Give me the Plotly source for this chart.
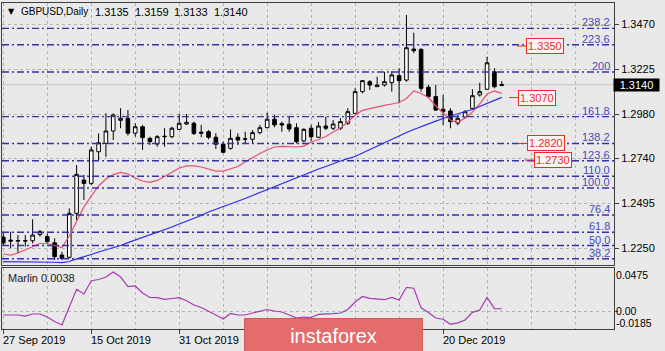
import plotly.graph_objects as go

# ---------------- data ----------------
opens = [1.2311, 1.2294, 1.2289, 1.2292, 1.2291, 1.2325, 1.2314, 1.2280, 1.2213, 1.2201,
         1.2440, 1.2621, 1.2603, 1.2775, 1.2821, 1.2888, 1.2946, 1.2957, 1.2876, 1.2911,
         1.2848, 1.2817, 1.2857, 1.2857, 1.2897, 1.2926, 1.2930, 1.2875, 1.2884, 1.2854,
         1.2817, 1.2794, 1.2854, 1.2843, 1.2843, 1.2879, 1.2906, 1.2952, 1.2928, 1.2925,
         1.2906, 1.2834, 1.2903, 1.2854, 1.2915, 1.2903, 1.2903, 1.2930, 1.2984, 1.3102,
         1.3156, 1.3129, 1.3138, 1.3151, 1.3189, 1.3165, 1.3334, 1.3332, 1.3126, 1.3075,
         1.3006, 1.2997, 1.2931, 1.2964, 1.3011, 1.3084, 1.3115, 1.3210, 1.3135]
highs = [1.2340, 1.2340, 1.2322, 1.2322, 1.2408, 1.2350, 1.2330, 1.2304, 1.2231, 1.2467,
         1.2703, 1.2649, 1.2803, 1.2875, 1.2984, 1.2984, 1.3012, 1.3002, 1.2930, 1.2921,
         1.2857, 1.2866, 1.2903, 1.2911, 1.2981, 1.2981, 1.2939, 1.2921, 1.2893, 1.2876,
         1.2830, 1.2897, 1.2876, 1.2884, 1.2893, 1.2921, 1.2988, 1.2975, 1.2939, 1.2970,
         1.2930, 1.2903, 1.2921, 1.2937, 1.2966, 1.2948, 1.2957, 1.3012, 1.3120, 1.3165,
         1.3165, 1.3183, 1.3210, 1.3214, 1.3229, 1.3519, 1.3423, 1.3338, 1.3138, 1.3138,
         1.3084, 1.3012, 1.2975, 1.3002, 1.3115, 1.3151, 1.3292, 1.3229, 1.3159]
lows = [1.2262, 1.2250, 1.2224, 1.2259, 1.2277, 1.2312, 1.2280, 1.2186, 1.2186, 1.2195,
        1.2404, 1.2513, 1.2594, 1.2730, 1.2748, 1.2839, 1.2903, 1.2863, 1.2857, 1.2785,
        1.2812, 1.2803, 1.2803, 1.2849, 1.2893, 1.2921, 1.2866, 1.2854, 1.2843, 1.2790,
        1.2767, 1.2786, 1.2812, 1.2821, 1.2821, 1.2871, 1.2903, 1.2908, 1.2884, 1.2884,
        1.2821, 1.2826, 1.2834, 1.2850, 1.2893, 1.2893, 1.2893, 1.2921, 1.2981, 1.3093,
        1.3111, 1.3129, 1.3129, 1.3102, 1.3039, 1.3156, 1.3311, 1.3102, 1.3066, 1.2998,
        1.2921, 1.2903, 1.2919, 1.2957, 1.3006, 1.3075, 1.3111, 1.3120, 1.3133]
closes = [1.2279, 1.2289, 1.2292, 1.2290, 1.2322, 1.2340, 1.2286, 1.2204, 1.2195, 1.2440,
          1.2652, 1.2603, 1.2785, 1.2824, 1.2888, 1.2975, 1.2957, 1.2876, 1.2911, 1.2852,
          1.2830, 1.2857, 1.2859, 1.2903, 1.2930, 1.2935, 1.2875, 1.2881, 1.2854, 1.2816,
          1.2772, 1.2848, 1.2839, 1.2845, 1.2879, 1.2906, 1.2952, 1.2921, 1.2921, 1.2899,
          1.2830, 1.2897, 1.2857, 1.2915, 1.2903, 1.2926, 1.2939, 1.2993, 1.3102, 1.3162,
          1.3138, 1.3138, 1.3156, 1.3193, 1.3162, 1.3341, 1.3325, 1.3120, 1.3075, 1.3002,
          1.2993, 1.2939, 1.2957, 1.2993, 1.3080, 1.3102, 1.3259, 1.3129, 1.3140]
ma_fast = [1.2219, 1.2213, 1.2224, 1.2241, 1.2257, 1.2276, 1.2276, 1.2265, 1.2254, 1.2317,
           1.2393, 1.2475, 1.2534, 1.2589, 1.2627, 1.2651, 1.2663, 1.2654, 1.2632, 1.2616,
           1.2609, 1.2619, 1.2640, 1.2665, 1.2687, 1.2698, 1.2698, 1.2692, 1.2681, 1.2670,
           1.2670, 1.2681, 1.2695, 1.2719, 1.2744, 1.2766, 1.2785, 1.2801, 1.2804, 1.2804,
           1.2801, 1.2806, 1.2828, 1.2842, 1.2858, 1.2883, 1.2904, 1.2937, 1.2975, 1.3000,
           1.3010, 1.3021, 1.3027, 1.3035, 1.3043, 1.3065, 1.3106, 1.3092, 1.3070, 1.3024,
           1.2984, 1.2948, 1.2934, 1.2959, 1.2991, 1.3035, 1.3089, 1.3106, 1.3093]
ma_slow = [1.2177, 1.2177, 1.2177, 1.2177, 1.2177, 1.2177, 1.2177, 1.2174, 1.2172, 1.2178,
           1.2192, 1.2203, 1.2216, 1.2230, 1.2241, 1.2254, 1.2265, 1.2281, 1.2295, 1.2309,
           1.2322, 1.2336, 1.2349, 1.2366, 1.2382, 1.2396, 1.2412, 1.2428, 1.2447, 1.2461,
           1.2476, 1.2491, 1.2504, 1.2521, 1.2537, 1.2553, 1.2570, 1.2586, 1.2602, 1.2620,
           1.2635, 1.2651, 1.2668, 1.2681, 1.2695, 1.2711, 1.2725, 1.2738, 1.2749, 1.2768,
           1.2787, 1.2806, 1.2823, 1.2842, 1.2861, 1.2880, 1.2896, 1.2912, 1.2929, 1.2942,
           1.2956, 1.2970, 1.2983, 1.2994, 1.3005, 1.3021, 1.3038, 1.3054, 1.3071]
marlin = [-0.0043, -0.0043, -0.0043, -0.0056, -0.0030, -0.0030, -0.0069, -0.0127, -0.0172, 0.0061,
          0.0290, 0.0229, 0.0401, 0.0417, 0.0449, 0.0514, 0.0449, 0.0326, 0.0333, 0.0242,
          0.0184, 0.0181, 0.0160, 0.0171, 0.0181, 0.0142, 0.0087, 0.0054, 0.0009, -0.0043,
          -0.0094, -0.0023, -0.0043, -0.0043, -0.0017, 0.0009, 0.0028, 0.0009, -0.0004, -0.0043,
          -0.0082, -0.0069, -0.0075, -0.0034, -0.0034, -0.0026, -0.0017, 0.0028, 0.0126, 0.0197,
          0.0173, 0.0160, 0.0155, 0.0186, 0.0151, 0.0316, 0.0304, 0.0050, -0.0010, -0.0082,
          -0.0098, -0.0163, -0.0144, -0.0107, -0.0008, 0.0022, 0.0186, 0.0040, 0.0038]

price_ticks = [1.3470, 1.3225, 1.2980, 1.2740, 1.2495, 1.2250]
fib_labels = ["238.2", "223.6", "200", "161.8", "138.2", "123.6", "110.0", "100.0",
              "76.4", "61.8", "50.0", "38.2"]
fib_prices = [1.3446, 1.3357, 1.3209, 1.2966, 1.2820, 1.2726, 1.2642, 1.2578,
              1.2431, 1.2337, 1.2265, 1.2193]
target_prices = [1.3350, 1.3070, 1.2820, 1.2730]
marlin_ticks = [0.0475, 0.00, -0.0185]
marlin_tick_text = ["0.0475", "0.00", "-0.0185"]
date_tick_idx = [0, 12, 24, 36, 48, 60]
# labels at bars 36 and 48 sit under the watermark in the reference (not visible)
date_tick_text = ["27 Sep 2019", "15 Oct 2019", "31 Oct 2019", "", "", "20 Dec 2019"]
symbol = "GBPUSD,Daily"

# ---------------- layout geometry ----------------
W, H = 665, 351
L, R, T, B = 2, 51, 3, 22
PW, PH = W - L - R, H - T - B
BG = "#e9e9e9"
FONT = "Liberation Sans, Arial, sans-serif"


def fx(px):
    return (px - L) / PW


def fy(py):
    return (T + PH - py) / PH


n = len(closes)
xs = list(range(n))
x_range = [-0.177, -0.177 + PW / 7.33]

fig = go.Figure()
fig.add_trace(go.Candlestick(
    x=xs, open=opens, high=highs, low=lows, close=closes,
    increasing=dict(line=dict(color="#000000", width=1), fillcolor="#ffffff"),
    decreasing=dict(line=dict(color="#000000", width=1), fillcolor="#000000"),
    whiskerwidth=0, showlegend=False, hoverinfo="skip", xaxis="x", yaxis="y"))
fig.add_trace(go.Scatter(x=xs, y=ma_fast, mode="lines",
                         line=dict(color="#e8506e", width=1.2), showlegend=False,
                         xaxis="x", yaxis="y"))
fig.add_trace(go.Scatter(x=xs, y=ma_slow, mode="lines",
                         line=dict(color="#2a2af0", width=1.2), showlegend=False,
                         xaxis="x", yaxis="y"))
fig.add_trace(go.Scatter(x=xs, y=marlin, mode="lines",
                         line=dict(color="#a838b0", width=1.2), showlegend=False,
                         xaxis="x2", yaxis="y2"))

shapes = []
annotations = []

# fibonacci levels
for lab, p in zip(fib_labels, fib_prices):
    shapes.append(dict(type="line", xref="paper", yref="y", x0=0, x1=1, y0=p, y1=p,
                       line=dict(color="#3434a6", width=1.4, dash="7px,3px,2px,3px"),
                       layer="above"))
    annotations.append(dict(text=lab, xref="paper", yref="y", x=fx(611), y=p,
                            xanchor="right", yanchor="bottom", showarrow=False,
                            font=dict(family=FONT, size=11, color="#4a4abb"),
                            borderpad=0, yshift=-1))

# current price line
shapes.append(dict(type="line", xref="paper", yref="y", x0=0, x1=1,
                   y0=closes[-1], y1=closes[-1],
                   line=dict(color="#c4c4c4", width=1), layer="below"))

# red target labels
box_left = [526, 518, 527, 534]
for p, bl in zip(target_prices, box_left):
    shapes.append(dict(type="line", xref="paper", yref="y", x0=fx(bl - 9), x1=fx(bl),
                       y0=p, y1=p, line=dict(color="#ee2a2a", width=1)))
    annotations.append(dict(text=f"{p:.4f}", xref="paper", yref="y", x=fx(bl), y=p,
                            xanchor="left", yanchor="middle", showarrow=False,
                            font=dict(family=FONT, size=11, color="#ee2a2a"),
                            bgcolor="#fdf4f4", bordercolor="#ee2a2a", borderwidth=1,
                            borderpad=1))

# current price box
annotations.append(dict(text=f"{closes[-1]:.4f}", xref="paper", yref="y", x=fx(613),
                        y=closes[-1], xanchor="left", yanchor="middle", showarrow=False,
                        font=dict(family=FONT, size=11, color="#ffffff"),
                        bgcolor="#000000", width=45, height=12, borderpad=0))

# title
annotations.append(dict(text="▼", xref="paper", yref="paper", x=fx(6), y=fy(12),
                        xanchor="left", yanchor="middle", showarrow=False,
                        font=dict(family="DejaVu Sans", size=8, color="#000000")))
annotations.append(dict(text=symbol, xref="paper", yref="paper", x=fx(19), y=fy(12),
                        xanchor="left", yanchor="middle", showarrow=False,
                        font=dict(family=FONT, size=10, color="#000000")))
for k, v in enumerate([opens[-1], highs[-1], lows[-1], closes[-1]]):
    annotations.append(dict(text=f"{v:.4f}", xref="paper", yref="paper",
                            x=fx(93 + 39.6 * k), y=fy(12), xanchor="left",
                            yanchor="middle", showarrow=False,
                            font=dict(family=FONT, size=11, color="#000000")))

# indicator labels
annotations.append(dict(text=f"Marlin {marlin[-1]:.4f}", xref="paper", yref="paper",
                        x=fx(6), y=fy(278), xanchor="left", yanchor="middle",
                        showarrow=False, font=dict(family=FONT, size=11, color="#202020")))
marlin_label_px = [275, 310.8, 323.4]
for t, py in zip(marlin_tick_text, marlin_label_px):
    annotations.append(dict(text=t, xref="paper", yref="paper", x=fx(615), y=fy(py),
                            xanchor="left", yanchor="middle", showarrow=False,
                            borderpad=0,
                            font=dict(family=FONT, size=10.5, color="#000000")))

# date labels
for i, t in zip(date_tick_idx, date_tick_text):
    if not t:
        continue
    annotations.append(dict(text=t, xref="x2", yref="paper", x=i, y=fy(340),
                            xanchor="left", yanchor="middle", showarrow=False,
                            xshift=-2,
                            font=dict(family=FONT, size=11, color="#000000")))

# watermark logo (covers part of the time axis)
annotations.append(dict(text="instaforex", xref="paper", yref="paper",
                        x=fx(333.5), y=fy(335.5), xanchor="center", yanchor="middle",
                        showarrow=False, width=177, height=33, borderpad=0,
                        bgcolor="#e46c6c", bordercolor="#d45a5a", borderwidth=1,
                        font=dict(family=FONT, size=20, color="#ffffff")))

grid = dict(showgrid=True, gridcolor="#b4b4b4", griddash="dot", gridwidth=1)
main_dom = [fy(265), 1.0]
ind_dom = [0.0, fy(268)]

fig.update_layout(
    width=W, height=H, margin=dict(l=L, r=R, t=T, b=B),
    paper_bgcolor=BG, plot_bgcolor=BG, showlegend=False,
    font=dict(family=FONT, size=11, color="#000000"),
    shapes=shapes, annotations=annotations, hovermode=False,
    xaxis=dict(range=x_range, domain=[0, 1], anchor="y", rangeslider=dict(visible=False),
               tickvals=date_tick_idx, showticklabels=False, ticks="",
               minor=dict(tick0=0, dtick=6, showgrid=True, gridcolor="#b4b4b4",
                          griddash="dot", ticks=""),
               showline=True, linecolor="#404040", mirror=True, zeroline=False, **grid),
    yaxis=dict(range=[1.36006 - 0.000544 * 265, 1.36006 - 0.000544 * 3],
               domain=main_dom, side="right", anchor="x",
               tickvals=price_ticks, tickformat=".4f", ticks="outside", ticklen=4,
               tickcolor="#404040", tickfont=dict(family=FONT, size=11, color="#000000"),
               showline=True, linecolor="#404040", mirror=True, zeroline=False, **grid),
    xaxis2=dict(range=x_range, domain=[0, 1], anchor="y2",
                tickvals=date_tick_idx, showticklabels=False, ticks="outside", ticklen=4,
                tickcolor="#404040",
                minor=dict(tick0=0, dtick=6, showgrid=True, gridcolor="#b4b4b4",
                           griddash="dot", ticks=""),
                showline=True, linecolor="#404040", mirror=True, zeroline=False, **grid),
    yaxis2=dict(range=[-(329 - 311.7) * 0.001294, (311.7 - 268) * 0.001294],
                domain=ind_dom, side="right", anchor="x2",
                tickvals=[marlin_ticks[1]], showticklabels=False, ticks="outside",
                ticklen=3, tickcolor="#404040",
                showline=True, linecolor="#404040", mirror=True, zeroline=False, **grid),
)

fig.write_html("out.html")
